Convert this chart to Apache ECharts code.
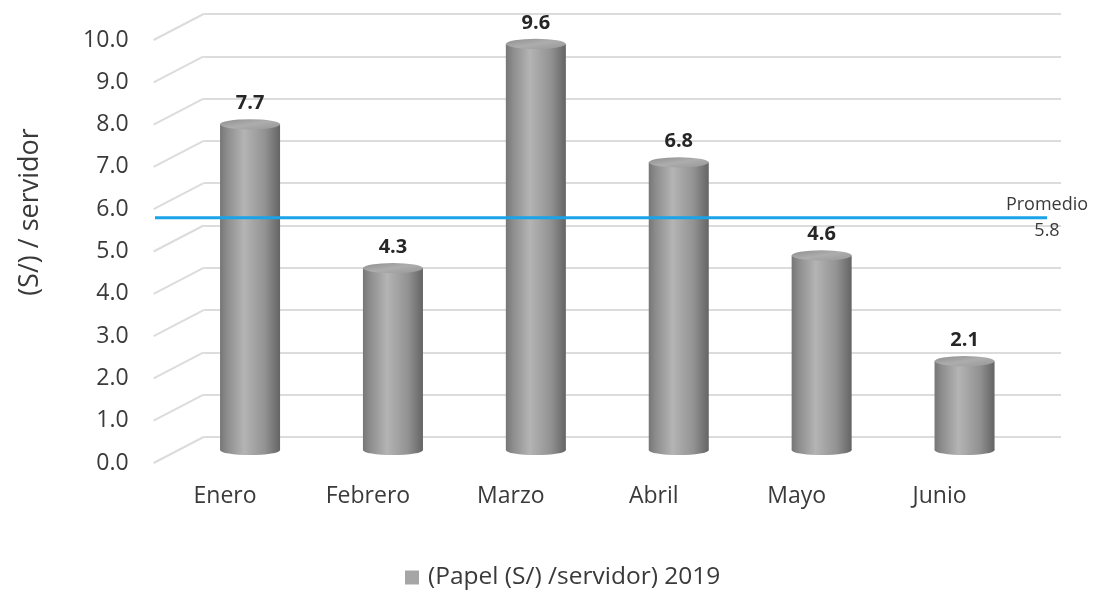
<!DOCTYPE html>
<html>
<head>
<meta charset="utf-8">
<script src="https://cdn.jsdelivr.net/npm/echarts@6/dist/echarts.min.js" type="text/javascript"></script>
<style>
    html, body { margin: 0; padding: 0; background: #fff; }
    #container { width: 1096px; height: 592px; }
</style>
</head>
<body>
<div id="container"></div>
<script type="text/javascript">
    // datos
    var meses = ['Enero', 'Febrero', 'Marzo', 'Abril', 'Mayo', 'Junio'];
    var papelPorServidor = [7.7, 4.3, 9.6, 6.8, 4.6, 2.1];
    var nombreSerie = '(Papel (S/) /servidor) 2019';
    var promedio = 5.8;
    var ejeMin = 0, ejeMax = 10, ejePaso = 1;
    var marcasEje = [0, 1, 2, 3, 4, 5, 6, 7, 8, 9, 10];

    var fuente = 'Open Sans';
    var colorTexto = '#3a3a3a';
    var colorRejilla = '#dcdcdc';

    // plano frontal; la pared del fondo esta desplazada por la profundidad
    var frente = {left: 153.6, right: 85, top: 40, bottom: 129};
    var prof = {dx: 50, dy: 26};

    function plano(f) {
        return {
            left: frente.left + prof.dx * f,
            right: frente.right - prof.dx * f,
            top: frente.top - prof.dy * f,
            bottom: frente.bottom + prof.dy * f
        };
    }

    var cuerpo = new echarts.graphic.LinearGradient(0, 0, 1, 0, [
        {offset: 0, color: '#767676'},
        {offset: 0.12, color: '#8d8d8d'},
        {offset: 0.4, color: '#b4b4b4'},
        {offset: 0.75, color: '#929292'},
        {offset: 1, color: '#646464'}
    ]);
    var tapa = new echarts.graphic.LinearGradient(0, 0, 1, 1, [
        {offset: 0, color: '#8e8e8e'},
        {offset: 0.5, color: '#adadad'},
        {offset: 1, color: '#979797'}
    ]);

    function cilindro(params, api) {
        var i = api.value(0);
        var tope = api.coord([i, api.value(1)]);
        var base = api.coord([i, 0]);
        var ancho = api.size([1, 0])[0] * 0.42;
        var r = ancho / 2;
        var ry = 0.17;
        return {
            type: 'group',
            children: [
                {type: 'circle', x: tope[0], y: base[1], scaleY: ry, shape: {cx: 0, cy: 0, r: r}, style: {fill: cuerpo}},
                {type: 'rect', shape: {x: tope[0] - r, y: tope[1], width: ancho, height: base[1] - tope[1]}, style: {fill: cuerpo}},
                {type: 'circle', x: tope[0], y: tope[1], scaleY: ry, shape: {cx: 0, cy: 0, r: r}, style: {fill: tapa}},
                {
                    type: 'text', x: tope[0], y: tope[1] - 21,
                    style: {
                        text: api.value(1).toFixed(1), align: 'center', verticalAlign: 'middle',
                        fontFamily: fuente, fontSize: 20, fontWeight: 'bold', fill: '#262626'
                    }
                }
            ]
        };
    }

    function diagonal(params, api) {
        var y = api.coord([0, api.value(1)])[1];
        var x0 = params.coordSys.x;
        return {
            type: 'line',
            shape: {x1: x0, y1: y, x2: x0 + prof.dx, y2: y - prof.dy},
            style: {stroke: colorRejilla, lineWidth: 2}
        };
    }

    var fondo = plano(1), medio = plano(0.5);
    var linea = {left: 155, right: 49, top: frente.top, bottom: frente.bottom};

    var dom = document.getElementById('container');
    var myChart = echarts.init(dom);
    var option = {
        animation: false,
        backgroundColor: '#fff',
        legend: {
            data: [nombreSerie],
            left: 400,
            top: 560,
            icon: 'rect',
            itemWidth: 14,
            itemHeight: 14,
            textStyle: {fontFamily: fuente, fontSize: 24.5, color: colorTexto, padding: [0, 0, 0, 4]}
        },
        grid: [fondo, frente, medio, linea],
        xAxis: [
            {gridIndex: 0, type: 'category', data: meses, show: false},
            {
                gridIndex: 1, type: 'category', data: meses,
                axisLine: {show: false}, axisTick: {show: false},
                axisLabel: {margin: 22, fontFamily: fuente, fontSize: 23, color: colorTexto}
            },
            {gridIndex: 2, type: 'category', data: meses, show: false},
            {gridIndex: 3, type: 'value', min: 0, max: 1, show: false}
        ],
        yAxis: [
            {
                gridIndex: 0, type: 'value', min: ejeMin, max: ejeMax, interval: ejePaso,
                axisLine: {show: false}, axisTick: {show: false}, axisLabel: {show: false},
                splitLine: {lineStyle: {color: colorRejilla, width: 2}}
            },
            {
                gridIndex: 1, type: 'value', min: ejeMin, max: ejeMax, interval: ejePaso,
                name: '(S/) / servidor', nameLocation: 'middle', nameGap: 110,
                nameTextStyle: {fontFamily: fuente, fontSize: 27, color: colorTexto, padding: [0, 0, 0, 79]},
                axisLine: {show: false}, axisTick: {show: false}, splitLine: {show: false},
                axisLabel: {
                    margin: 25, fontFamily: fuente, fontSize: 23, color: colorTexto,
                    formatter: function (v) { return v.toFixed(1); }
                }
            },
            {gridIndex: 2, type: 'value', min: ejeMin, max: ejeMax, interval: ejePaso, show: false},
            {gridIndex: 3, type: 'value', min: ejeMin, max: ejeMax, show: false}
        ],
        series: [
            {
                type: 'custom', name: 'rejilla', xAxisIndex: 1, yAxisIndex: 1, silent: true, z: 1,
                data: marcasEje.map(function (t) { return [0, t]; }),
                renderItem: diagonal
            },
            {
                type: 'custom', name: nombreSerie, xAxisIndex: 2, yAxisIndex: 2, z: 2,
                itemStyle: {color: '#a6a6a6'},
                data: papelPorServidor.map(function (v, i) { return [i, v]; }),
                renderItem: cilindro
            },
            {
                type: 'line', name: 'Promedio', xAxisIndex: 3, yAxisIndex: 3, z: 3,
                symbol: 'circle', symbolSize: 0.1, itemStyle: {color: 'transparent'},
                lineStyle: {color: '#1aa3e8', width: 3},
                data: [
                    [0, promedio],
                    {
                        value: [1, promedio],
                        label: {
                            show: true, position: 'inside', color: colorTexto,
                            fontFamily: fuente, fontSize: 18, lineHeight: 26,
                            formatter: function (p) { return 'Promedio\n' + p.value[1].toFixed(1); }
                        }
                    }
                ]
            }
        ]
    };
    myChart.setOption(option, true);
</script>
</body>
</html>
